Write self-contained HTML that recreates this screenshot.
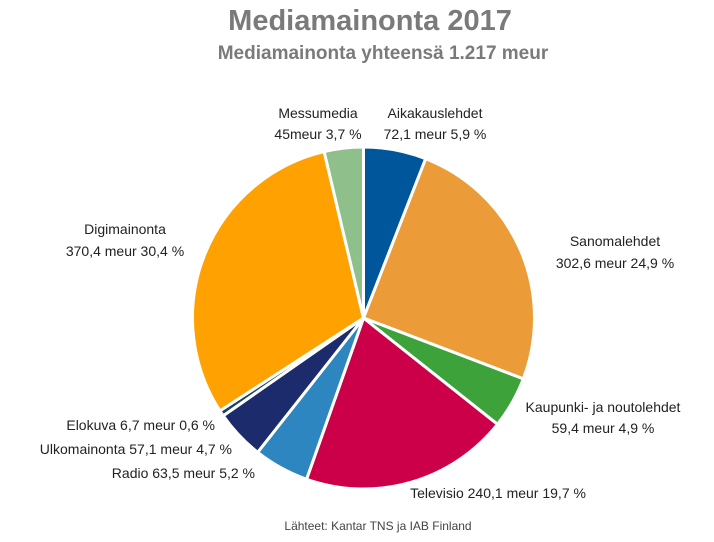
<!DOCTYPE html>
<html><head><meta charset="utf-8"><style>
body{margin:0;background:#fff;width:714px;height:537px;overflow:hidden;font-family:"Liberation Sans",sans-serif}
svg text{font-family:"Liberation Sans",sans-serif}
</style></head><body>
<svg id="chart" width="714" height="537">
<text x="370" y="30" text-anchor="middle" font-size="29" font-weight="bold" fill="#7a7a7a">Mediamainonta 2017</text>
<text x="383" y="59" text-anchor="middle" font-size="19" font-weight="bold" fill="#7a7a7a">Mediamainonta yhteensä 1.217 meur</text>
<g id="slices"></g>
<g id="labels"></g>
<text x="378" y="530" text-anchor="middle" font-size="12" fill="#444">Lähteet: Kantar TNS ja IAB Finland</text>
</svg>
<script>
const categories=["Aikakauslehdet","Sanomalehdet","Kaupunki- ja noutolehdet","Televisio","Radio","Ulkomainonta","Elokuva","Digimainonta","Messumedia"];
const values=[72.1,302.6,59.4,240.1,63.5,57.1,6.7,370.4,45];
const valueLabels=["72,1 meur 5,9 %","302,6 meur 24,9 %","59,4 meur 4,9 %","240,1 meur 19,7 %","Radio 63,5 meur 5,2 %","Ulkomainonta 57,1 meur 4,7 %","Elokuva 6,7 meur 0,6 %","370,4 meur 30,4 %","45meur 3,7 %"];
const colors=["#00569b","#eb9c38","#3da23a","#cc0049","#2e86c1","#1c2b6b","#1c3f5e","#ffa100","#8fbf8a"];
const NS="http://www.w3.org/2000/svg";
const cx=363.5,cy=318,r=171;
const total=values.reduce((a,b)=>a+b,0);
const gs=document.getElementById('slices');
let a0=0;
function pt(a,rr){return [cx+rr*Math.sin(a),cy-rr*Math.cos(a)];}
values.forEach((v,i)=>{
  const a1=a0+v/total*2*Math.PI;
  const p0=pt(a0,r),p1=pt(a1,r);
  const large=(a1-a0)>Math.PI?1:0;
  const p=document.createElementNS(NS,'path');
  p.setAttribute('d',`M${cx},${cy}L${p0[0]},${p0[1]}A${r},${r} 0 ${large} 1 ${p1[0]},${p1[1]}Z`);
  p.setAttribute('fill',colors[i]);p.setAttribute('stroke','#fff');p.setAttribute('stroke-width','3');
  
  
  gs.appendChild(p);
  a0=a1;
});
// label positions (layout only)
const lab=[
 [[435,118,"middle",categories[0]],[435,139,"middle",valueLabels[0]]],
 [[615,246,"middle",categories[1]],[615,268,"middle",valueLabels[1]]],
 [[603,412,"middle",categories[2]],[603,433,"middle",valueLabels[2]]],
 [[498,498,"middle",categories[3]+" "+valueLabels[3]]],
 [[255,478,"end",valueLabels[4]]],
 [[232,454,"end",valueLabels[5]]],
 [[215,430,"end",valueLabels[6]]],
 [[125,234,"middle",categories[7]],[125,256,"middle",valueLabels[7]]],
 [[318,118,"middle",categories[8]],[318,139,"middle",valueLabels[8]]]
];
const gl=document.getElementById('labels');
lab.forEach((lines,i)=>{lines.forEach(l=>{
  const t=document.createElementNS(NS,'text');
  t.setAttribute('x',l[0]);t.setAttribute('y',l[1]);t.setAttribute('text-anchor',l[2]);
  t.setAttribute('font-size','14');t.setAttribute('fill','#222');
  t.textContent=l[3];
  
  
  gl.appendChild(t);
});});
</script>
</body></html>
